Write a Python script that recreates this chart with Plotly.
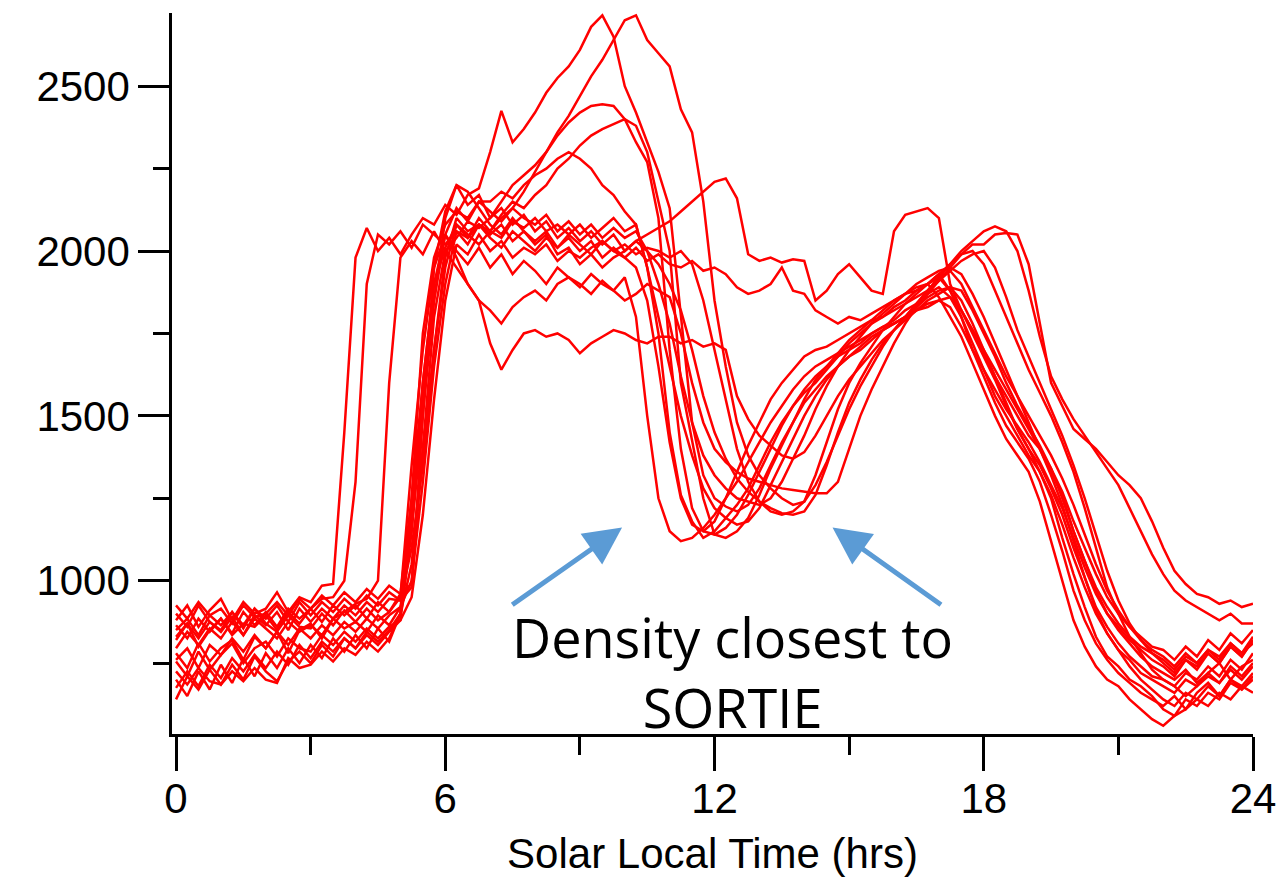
import plotly.graph_objects as go

# time grid (hours), 0.25 h spacing
hours = [i * 0.25 for i in range(97)]

density_01 = [880, 925, 860, 910, 945, 880, 935, 900, 915, 965, 905, 950, 935, 985, 990, 1450,
              1980, 2070, 2000, 2040, 1990, 2050, 2100, 2080, 2140, 2110, 2170, 2190, 2300, 2425, 2330, 2370,
              2420, 2480, 2525, 2560, 2610, 2680, 2715, 2650, 2500, 2420, 2330, 2240, 2130, 1800, 1480, 1320,
              1250, 1225, 1210, 1230, 1280, 1350, 1420, 1480, 1540, 1580, 1620, 1650, 1680, 1700, 1730, 1760,
              1780, 1800, 1830, 1860, 1880, 1890, 1850, 1780, 1700, 1620, 1560, 1500, 1440, 1400, 1330, 1260,
              1150, 1060, 970, 900, 850, 810, 770, 740, 720, 700, 730, 690, 720, 750, 700, 740, 760]
density_02 = [830, 870, 800, 850, 885, 835, 870, 860, 895, 850, 905, 870, 915, 945, 950, 1000,
              1300, 1900, 2050, 2020, 2060, 2010, 2080, 2050, 2020, 2060, 2040, 2080, 2060, 2100, 2130, 2180,
              2240, 2300, 2360, 2410, 2470, 2530, 2580, 2640, 2700, 2715, 2640, 2600, 2560, 2430, 2360, 2150,
              1850, 1650, 1480, 1380, 1320, 1280, 1250, 1230, 1240, 1290, 1360, 1440, 1520, 1590, 1650, 1710,
              1760, 1800, 1840, 1880, 1920, 1960, 2000, 2030, 2060, 2075, 2060, 2000, 1880, 1740, 1620, 1550,
              1490, 1440, 1390, 1340, 1290, 1220, 1150, 1080, 1020, 970, 940, 920, 900, 880, 900, 870, 870]
density_03 = [780, 735, 810, 755, 795, 820, 760, 830, 795, 845, 780, 850, 870, 825, 885, 905,
              930, 945, 1000, 1600, 1980, 2030, 1990, 2060, 2000, 2040, 2090, 2070, 2100, 2150, 2200, 2230,
              2260, 2300, 2350, 2390, 2420, 2440, 2445, 2440, 2400, 2330, 2270, 2100, 1700, 1400, 1220, 1150,
              1140, 1160, 1200, 1260, 1330, 1400, 1470, 1530, 1580, 1620, 1650, 1680, 1700, 1720, 1750, 1770,
              1790, 1820, 1840, 1870, 1890, 1860, 1800, 1720, 1640, 1560, 1500, 1440, 1380, 1330, 1250, 1130,
              1020, 920, 830, 770, 740, 700, 680, 650, 610, 590, 640, 620, 660, 640, 690, 670, 700]
density_04 = [900, 860, 925, 875, 850, 905, 865, 915, 870, 845, 895, 860, 855, 900, 865, 910,
              875, 915, 880, 905, 960, 1250, 1600, 1900, 2010, 2080, 2040, 2100, 2060, 2110, 2150, 2130,
              2170, 2200, 2250, 2280, 2320, 2350, 2370, 2385, 2400, 2380, 2300, 2150, 2000, 1600, 1420, 1250,
              1140, 1130, 1150, 1190, 1260, 1340, 1410, 1480, 1550, 1610, 1650, 1690, 1730, 1760, 1790, 1820,
              1850, 1870, 1890, 1900, 1860, 1800, 1740, 1660, 1580, 1500, 1430, 1380, 1330, 1240, 1120, 1000,
              880, 800, 740, 700, 680, 640, 610, 580, 560, 590, 610, 640, 620, 660, 640, 680, 660]
density_05 = [700, 650, 725, 670, 745, 690, 765, 710, 780, 735, 795, 750, 805, 765, 825, 785,
              835, 795, 855, 815, 900, 1200, 1550, 1850, 2050, 2130, 2090, 2150, 2150, 2180, 2160, 2200,
              2230, 2250, 2280, 2300, 2280, 2250, 2200, 2170, 2120, 2080, 1950, 1750, 1450, 1260, 1180, 1130,
              1150, 1190, 1230, 1280, 1350, 1420, 1480, 1530, 1570, 1600, 1640, 1680, 1720, 1750, 1780, 1800,
              1830, 1850, 1880, 1900, 1930, 1880, 1800, 1700, 1620, 1540, 1470, 1420, 1370, 1300, 1200, 1090,
              970, 880, 810, 760, 720, 690, 660, 640, 620, 650, 610, 660, 690, 650, 700, 680, 720]
density_06 = [640, 710, 670, 730, 685, 745, 700, 770, 725, 695, 755, 785, 750, 805, 770, 825,
              795, 845, 815, 850, 900, 1050, 1400, 1700, 1950, 2080, 2050, 2020, 2060, 2040, 2090, 2070,
              2100, 2060, 2080, 2050, 2080, 2040, 2070, 2100, 2060, 2080, 1950, 1800, 1650, 1500, 1380, 1280,
              1220, 1190, 1170, 1180, 1220, 1290, 1360, 1430, 1500, 1560, 1610, 1650, 1680, 1710, 1740, 1760,
              1780, 1800, 1820, 1840, 1850, 1860, 1820, 1760, 1690, 1620, 1540, 1460, 1400, 1350, 1280, 1200,
              1100, 1010, 920, 860, 810, 770, 740, 710, 700, 680, 720, 700, 740, 710, 760, 730, 780]
density_07 = [755, 710, 785, 730, 775, 810, 750, 795, 815, 770, 825, 795, 785, 835, 805, 845,
              815, 855, 825, 860, 880, 1150, 1600, 1900, 2050, 2000, 1960, 2010, 1950, 1990, 1930, 1970,
              1940, 1900, 1950, 1920, 1900, 1870, 1910, 1880, 1920, 1800, 1500, 1250, 1150, 1120, 1130, 1160,
              1200, 1250, 1300, 1360, 1420, 1480, 1530, 1580, 1620, 1650, 1670, 1690, 1710, 1730, 1750, 1770,
              1780, 1800, 1820, 1830, 1850, 1830, 1770, 1700, 1640, 1580, 1520, 1470, 1420, 1360, 1290, 1220,
              1130, 1040, 960, 900, 860, 820, 790, 760, 740, 710, 760, 730, 780, 750, 800, 770, 820]
density_08 = [820, 870, 825, 875, 845, 890, 835, 895, 865, 905, 850, 915, 875, 915, 885, 925,
              895, 935, 905, 945, 940, 1100, 1350, 1700, 1980, 2100, 2060, 2080, 2050, 2080, 2030, 2060,
              2020, 2050, 1990, 2010, 1960, 1990, 1950, 1980, 2000, 2030, 2050, 2070, 2090, 2120, 2150, 2180,
              2210, 2220, 2160, 1990, 1970, 1980, 1965, 1975, 1970, 1850, 1880, 1930, 1960, 1920, 1880, 1870,
              2060, 2110, 2120, 2130, 2100, 1900, 1820, 1760, 1700, 1640, 1580, 1520, 1460, 1400, 1340, 1270,
              1180, 1100, 1020, 950, 900, 860, 830, 800, 790, 760, 800, 770, 820, 790, 840, 810, 850]
density_09 = [865, 825, 885, 845, 885, 840, 905, 865, 905, 860, 915, 885, 915, 875, 925, 895,
              925, 885, 935, 905, 950, 1350, 1700, 1950, 2050, 1980, 1900, 1850, 1720, 1640, 1700, 1750,
              1760, 1740, 1750, 1730, 1690, 1720, 1740, 1760, 1750, 1730, 1720, 1740, 1740, 1720, 1730, 1710,
              1720, 1700, 1560, 1490, 1440, 1410, 1380, 1370, 1390, 1440, 1500, 1560, 1610, 1650, 1690, 1730,
              1760, 1790, 1820, 1850, 1870, 1890, 1880, 1820, 1750, 1680, 1600, 1530, 1470, 1410, 1340, 1250,
              1150, 1060, 980, 920, 870, 830, 800, 780, 760, 730, 770, 750, 790, 760, 810, 780, 830]
density_10 = [675, 725, 680, 745, 705, 765, 725, 775, 735, 785, 745, 805, 765, 815, 785, 825,
              795, 835, 805, 845, 880, 950, 1200, 1550, 1850, 2020, 1990, 2050, 2000, 2030, 1980, 2010,
              1990, 2020, 1970, 2000, 1980, 2010, 2030, 2000, 2020, 1990, 2010, 2000, 1980, 2000, 1960, 1850,
              1700, 1550, 1400, 1300, 1240, 1210, 1200, 1210, 1240, 1320, 1420, 1520, 1600, 1660, 1710, 1760,
              1800, 1840, 1870, 1900, 1930, 1960, 1990, 2000, 1960, 1880, 1800, 1720, 1640, 1570, 1500, 1420,
              1330, 1220, 1100, 980, 900, 830, 780, 730, 700, 680, 650, 680, 710, 690, 730, 700, 740]
density_11 = [925, 885, 935, 895, 915, 870, 925, 890, 900, 935, 895, 945, 915, 955, 925, 965,
              935, 975, 945, 985, 960, 990, 1400, 1800, 2000, 1950, 1900, 1850, 1820, 1780, 1830, 1860,
              1880, 1850, 1900, 1920, 1890, 1930, 1900, 1880, 1850, 1870, 1900, 1880, 1860, 1750, 1600, 1480,
              1400, 1360, 1330, 1310, 1300, 1290, 1280, 1275, 1270, 1265, 1265, 1300, 1400, 1500, 1580, 1650,
              1720, 1780, 1830, 1870, 1910, 1950, 1990, 2020, 2020, 2050, 2055, 2050, 1960, 1780, 1600, 1530,
              1460, 1430, 1400, 1360, 1320, 1290, 1250, 1180, 1100, 1030, 990, 960, 950, 930, 940, 920, 930]
density_12 = [760, 795, 735, 805, 775, 825, 785, 835, 795, 845, 805, 855, 825, 865, 835, 875,
              845, 885, 855, 895, 920, 1150, 1500, 1850, 2100, 2200, 2140, 2170, 2100, 2130, 2080, 2110,
              2060, 2090, 2040, 2070, 2030, 2060, 2020, 2050, 2000, 2030, 2000, 1960, 1900, 1820, 1700, 1560,
              1450, 1370, 1310, 1270, 1240, 1220, 1205, 1200, 1210, 1260, 1350, 1450, 1540, 1610, 1670, 1720,
              1760, 1800, 1840, 1880, 1910, 1940, 1970, 1990, 2000, 1950, 1860, 1760, 1680, 1600, 1520, 1440,
              1350, 1250, 1140, 1030, 940, 870, 820, 780, 750, 720, 760, 740, 780, 750, 800, 770, 820]
density_13 = [725, 685, 735, 695, 685, 725, 695, 735, 700, 690, 765, 735, 745, 785, 755, 795,
              775, 815, 785, 825, 900, 1250, 1750, 1980, 2080, 2120, 2100, 2150, 2120, 2090, 2130, 2100,
              2080, 2110, 2060, 2090, 2050, 2080, 2040, 2070, 2040, 2060, 2000, 1900, 1780, 1620, 1480, 1380,
              1320, 1280, 1250, 1240, 1230, 1250, 1300, 1370, 1440, 1520, 1590, 1650, 1700, 1740, 1780, 1810,
              1840, 1870, 1900, 1920, 1940, 1950, 1930, 1870, 1800, 1720, 1640, 1560, 1480, 1400, 1320, 1230,
              1120, 1010, 910, 840, 790, 740, 700, 670, 640, 620, 660, 640, 680, 650, 700, 670, 710]
density_14 = [795, 845, 805, 855, 825, 875, 835, 885, 855, 825, 875, 845, 865, 835, 885, 855,
              875, 845, 895, 865, 920, 1000, 1300, 1650, 1900, 2060, 2020, 2080, 2040, 2010, 2060, 2030,
              2000, 2040, 2010, 2050, 2020, 1990, 2030, 2000, 1980, 2010, 1970, 1990, 1960, 1950, 1970, 1940,
              1950, 1930, 1890, 1870, 1880, 1900, 1950, 1880, 1870, 1820, 1800, 1780, 1800, 1790, 1810, 1830,
              1850, 1870, 1880, 1900, 1920, 1940, 1900, 1830, 1760, 1690, 1620, 1560, 1500, 1440, 1380, 1310,
              1230, 1140, 1050, 970, 910, 860, 820, 790, 770, 740, 780, 750, 790, 770, 810, 780, 810]
density_15 = [850, 885, 835, 895, 865, 905, 855, 915, 885, 925, 875, 935, 895, 935, 905, 945,
              915, 955, 925, 965, 940, 980, 1500, 1950, 2120, 2200, 2180, 2130, 2080, 2050, 2100, 2060,
              2030, 2060, 2010, 2040, 2000, 2030, 1980, 2010, 1980, 1950, 1850, 1650, 1420, 1250, 1170, 1150,
              1180, 1250, 1330, 1410, 1480, 1550, 1600, 1640, 1680, 1700, 1710, 1730, 1750, 1770, 1790, 1800,
              1820, 1840, 1860, 1880, 1920, 1880, 1820, 1750, 1680, 1610, 1530, 1460, 1400, 1330, 1260, 1170,
              1070, 980, 900, 840, 790, 760, 720, 700, 680, 660, 700, 680, 720, 690, 740, 710, 750]

series = [density_01, density_02, density_03, density_04, density_05, density_06, density_07,
          density_08, density_09, density_10, density_11, density_12, density_13, density_14, density_15]

x_ticks = [0, 6, 12, 18, 24]
y_ticks = [1000, 1500, 2000, 2500]

fig = go.Figure()
for ys in series:
    fig.add_trace(go.Scatter(x=hours, y=ys, mode="lines",
                             line=dict(color="#FF0000", width=2.5),
                             showlegend=False, hoverinfo="skip"))

tick_font = dict(family="Liberation Sans, Arial, sans-serif", size=42, color="black")

# the page body adds an 8 px offset, so the figure is sized/margined to compensate
fig.update_layout(
    width=1277, height=874,
    margin=dict(l=164, r=32, t=5, b=148, autoexpand=False),
    paper_bgcolor="white", plot_bgcolor="white",
    xaxis=dict(range=[-0.09, 24.0], tickmode="array", tickvals=x_ticks,
               ticktext=[str(v) for v in x_ticks], automargin=False,
               ticks="outside", ticklen=34, tickwidth=2.5, tickcolor="black",
               ticklabelstandoff=-8,
               minor=dict(dtick=3, tick0=0, ticks="outside", ticklen=18, tickwidth=2.5,
                          tickcolor="black", showgrid=False),
               showline=True, linewidth=2.5, linecolor="black",
               showgrid=False, zeroline=False, tickfont=tick_font,
               title=dict(text="Solar Local Time (hrs)", font=tick_font, standoff=18)),
    yaxis=dict(range=[535, 2722], tickmode="array", tickvals=y_ticks, automargin=False,
               ticks="outside", ticklen=31, tickwidth=2.5, tickcolor="black",
               minor=dict(dtick=250, tick0=0, ticks="outside", ticklen=16, tickwidth=2.5,
                          tickcolor="black", showgrid=False),
               showline=True, linewidth=2.5, linecolor="black",
               showgrid=False, zeroline=False, tickfont=tick_font),
)

arrow_color = "#5B9BD5"
fig.add_annotation(x=9.94, y=1161, ax=7.46, ay=924, xref="x", yref="y", axref="x", ayref="y",
                   text="", showarrow=True, arrowhead=2, arrowsize=1.5, arrowwidth=5,
                   arrowcolor=arrow_color, standoff=0)
fig.add_annotation(x=14.63, y=1161, ax=17.08, ay=924, xref="x", yref="y", axref="x", ayref="y",
                   text="", showarrow=True, arrowhead=2, arrowsize=1.5, arrowwidth=5,
                   arrowcolor=arrow_color, standoff=0)
fig.add_annotation(x=12.41, y=724, xref="x", yref="y", showarrow=False,
                   text="Density closest to<br>SORTIE", align="center",
                   font=dict(family="Open Sans, Lato, sans-serif", size=54, color="black"),
                   xanchor="center", yanchor="middle")

fig.write_html("out.html")
